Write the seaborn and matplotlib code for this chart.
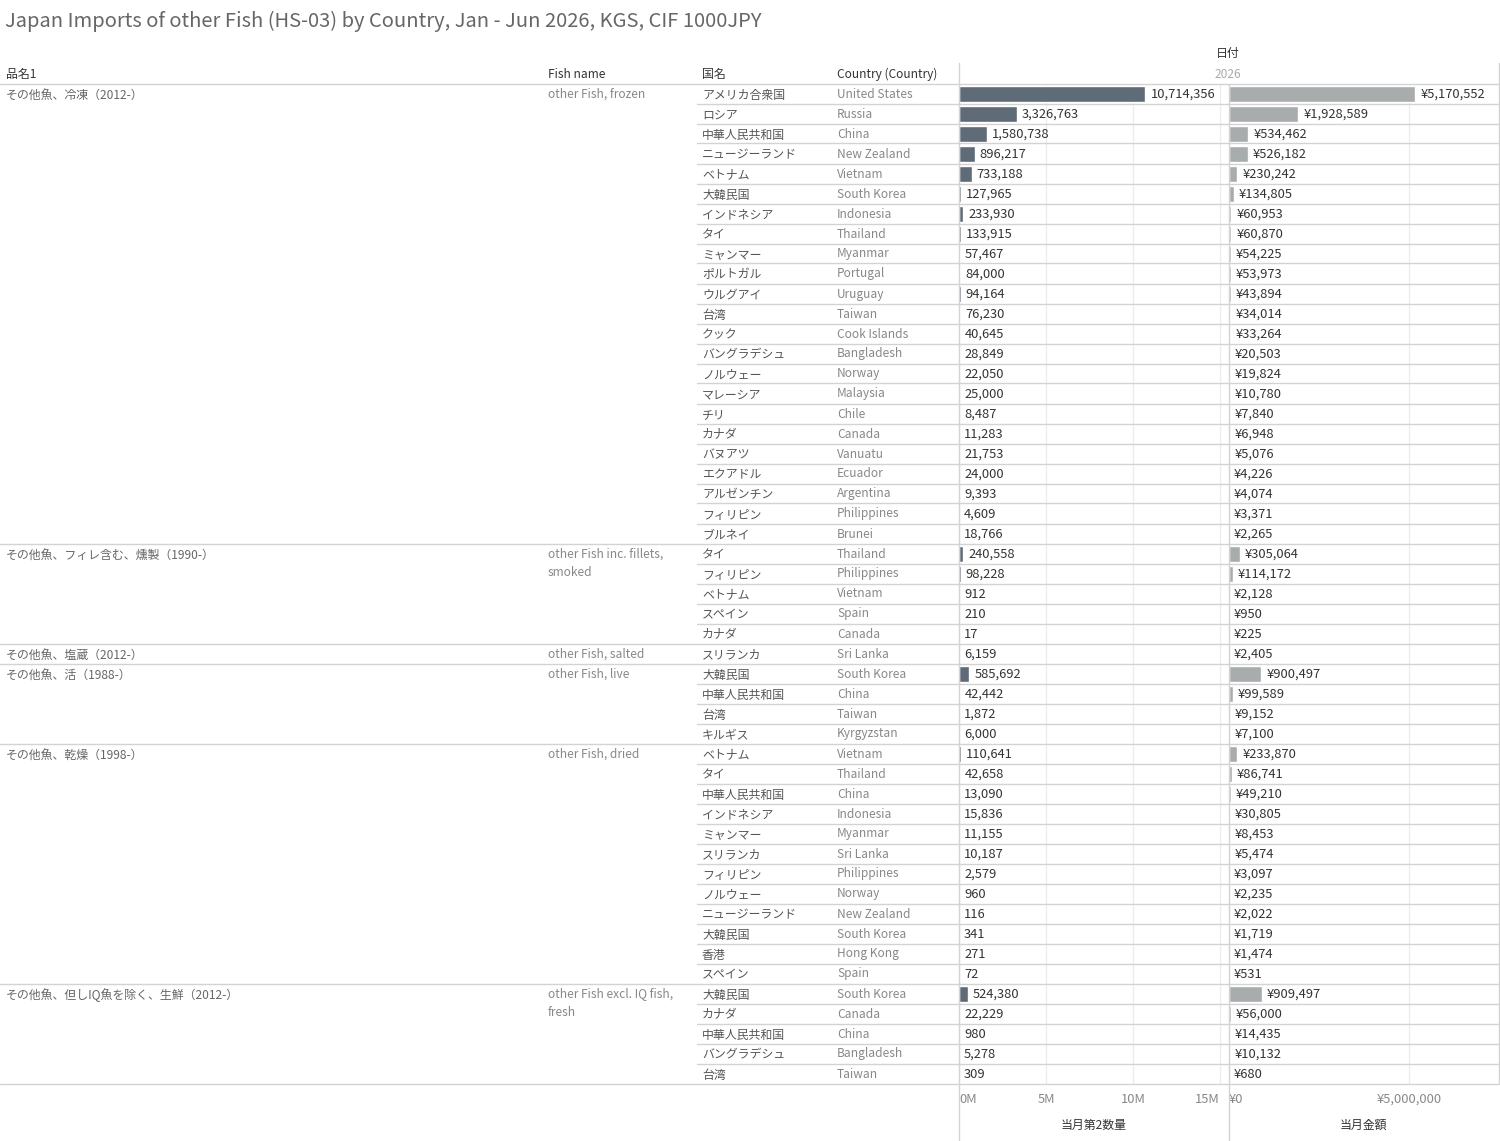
import pandas as pd
import matplotlib
matplotlib.use('Agg')
import matplotlib.pyplot as plt
from matplotlib.lines import Line2D
import seaborn as sns

# Product groups (品名1 / Fish name) and how many country rows each has
group_jp = ['その他魚、冷凍（2012-）', 'その他魚、フィレ含む、燻製（1990-）', 'その他魚、塩蔵（2012-）',
            'その他魚、活（1988-）', 'その他魚、乾燥（1998-）', 'その他魚、但しIQ魚を除く、生鮮（2012-）']
group_en = ['other Fish, frozen', 'other Fish inc. fillets,\nsmoked', 'other Fish, salted',
            'other Fish, live', 'other Fish, dried', 'other Fish excl. IQ fish,\nfresh']
group_sizes = [23, 5, 1, 4, 12, 5]

country_jp = ['アメリカ合衆国', 'ロシア', '中華人民共和国', 'ニュージーランド', 'ベトナム', '大韓民国',
              'インドネシア', 'タイ', 'ミャンマー', 'ポルトガル', 'ウルグアイ', '台湾', 'クック',
              'バングラデシュ', 'ノルウェー', 'マレーシア', 'チリ', 'カナダ', 'バヌアツ', 'エクアドル',
              'アルゼンチン', 'フィリピン', 'ブルネイ',
              'タイ', 'フィリピン', 'ベトナム', 'スペイン', 'カナダ',
              'スリランカ',
              '大韓民国', '中華人民共和国', '台湾', 'キルギス',
              'ベトナム', 'タイ', '中華人民共和国', 'インドネシア', 'ミャンマー', 'スリランカ',
              'フィリピン', 'ノルウェー', 'ニュージーランド', '大韓民国', '香港', 'スペイン',
              '大韓民国', 'カナダ', '中華人民共和国', 'バングラデシュ', '台湾']
country_en = ['United States', 'Russia', 'China', 'New Zealand', 'Vietnam', 'South Korea',
              'Indonesia', 'Thailand', 'Myanmar', 'Portugal', 'Uruguay', 'Taiwan', 'Cook Islands',
              'Bangladesh', 'Norway', 'Malaysia', 'Chile', 'Canada', 'Vanuatu', 'Ecuador',
              'Argentina', 'Philippines', 'Brunei',
              'Thailand', 'Philippines', 'Vietnam', 'Spain', 'Canada',
              'Sri Lanka',
              'South Korea', 'China', 'Taiwan', 'Kyrgyzstan',
              'Vietnam', 'Thailand', 'China', 'Indonesia', 'Myanmar', 'Sri Lanka',
              'Philippines', 'Norway', 'New Zealand', 'South Korea', 'Hong Kong', 'Spain',
              'South Korea', 'Canada', 'China', 'Bangladesh', 'Taiwan']

# 当月第2数量 (KGS)
quantity = [10714356, 3326763, 1580738, 896217, 733188, 127965, 233930, 133915, 57467, 84000,
            94164, 76230, 40645, 28849, 22050, 25000, 8487, 11283, 21753, 24000, 9393, 4609, 18766,
            240558, 98228, 912, 210, 17,
            6159,
            585692, 42442, 1872, 6000,
            110641, 42658, 13090, 15836, 11155, 10187, 2579, 960, 116, 341, 271, 72,
            524380, 22229, 980, 5278, 309]
# 当月金額 (1000 JPY)
amount = [5170552, 1928589, 534462, 526182, 230242, 134805, 60953, 60870, 54225, 53973,
          43894, 34014, 33264, 20503, 19824, 10780, 7840, 6948, 5076, 4226, 4074, 3371, 2265,
          305064, 114172, 2128, 950, 225,
          2405,
          900497, 99589, 9152, 7100,
          233870, 86741, 49210, 30805, 8453, 5474, 3097, 2235, 2022, 1719, 1474, 531,
          909497, 56000, 14435, 10132, 680]

df = pd.DataFrame({'row': range(len(quantity)), 'qty': quantity, 'amt': amount})
n_rows = len(df)

sns.set_style('white')
plt.rcParams['font.family'] = ['Noto Sans CJK JP', 'DejaVu Sans']

W, H = 1500, 1141
TOP, ROW_H = 84, 20
FS = 8.6       # table text
FS_NUM = 9.3   # numbers
LINE_C = '#d3d3d3'


def fx(px):
    return px / W


def fy(py):
    return 1 - py / H


def line(x0, x1, y0, y1):
    fig.add_artist(Line2D([fx(x0), fx(x1)], [fy(y0), fy(y1)], color=LINE_C, lw=1))


fig = plt.figure(figsize=(W / 100, H / 100), dpi=100)

bottom = TOP + ROW_H * n_rows
ax_q = fig.add_axes([fx(959), fy(bottom), 269 / W, (bottom - TOP) / H])
ax_a = fig.add_axes([fx(1229), fy(bottom), 269 / W, (bottom - TOP) / H])

sns.barplot(data=df, x='qty', y='row', order=list(range(n_rows)), orient='h',
            color='#5f6b77', saturation=1, width=0.76, ax=ax_q)
sns.barplot(data=df, x='amt', y='row', order=list(range(n_rows)), orient='h',
            color='#a8acac', saturation=1, width=0.76, ax=ax_a)

panels = [
    (ax_q, quantity, 15.46e6, [0, 5e6, 10e6, 15e6], ['0M', '5M', '10M', '15M'], '当月第2数量', ''),
    (ax_a, amount, 7.47e6, [0, 5e6], ['¥0', '¥5,000,000'], '当月金額', '¥'),
]
for ax, vals, xmax, ticks, tlabels, xlab, prefix in panels:
    ax.set_xlim(0, xmax)
    ax.set_ylim(n_rows - 0.5, -0.5)
    ax.set_yticks([])
    ax.set_ylabel('')
    ax.set_xticks(ticks)
    ax.set_xticklabels(tlabels, fontsize=FS_NUM, color='#888888')
    ax.tick_params(axis='x', length=0, pad=6.5)
    labels = ax.get_xticklabels()
    labels[0].set_ha('left')
    if len(labels) > 2:
        labels[-1].set_ha('right')
    ax.set_xlabel(xlab, fontsize=FS, color='#333333', labelpad=9)
    ax.grid(axis='x', color='#ececec', lw=1)
    ax.set_axisbelow(True)
    for s in ax.spines.values():
        s.set_visible(False)
    for i, v in enumerate(vals):
        ax.annotate(f'{prefix}{v:,}', xy=(v, i), xytext=(5, 0), textcoords='offset pixels',
                    va='center', ha='left', fontsize=FS_NUM, color='#333333')

# title and headers
fig.text(fx(5), fy(21), 'Japan Imports of other Fish (HS-03) by Country, Jan - Jun 2026, KGS, CIF 1000JPY',
         fontsize=14.5, color='#666666', va='center', ha='left')
fig.text(fx(1228), fy(54), '日付', fontsize=FS, color='#333333', va='center', ha='center')
fig.text(fx(1228), fy(74), '2026', fontsize=FS, color='#aaaaaa', va='center', ha='center')
for x, t in [(6, '品名1'), (548, 'Fish name'), (702, '国名'), (837, 'Country (Country)')]:
    fig.text(fx(x), fy(74), t, fontsize=FS, color='#333333', va='center', ha='left')

# table text
for i in range(n_rows):
    yc = TOP + ROW_H * i + ROW_H / 2
    fig.text(fx(702), fy(yc + 1), country_jp[i], fontsize=FS, color='#555555', va='center', ha='left')
    fig.text(fx(837), fy(yc), country_en[i], fontsize=FS, color='#888888', va='center', ha='left')

start = 0
group_starts = []
for g, size in enumerate(group_sizes):
    group_starts.append(start)
    yc = TOP + ROW_H * start + ROW_H / 2
    fig.text(fx(6), fy(yc + 1), group_jp[g], fontsize=FS, color='#666666', va='center', ha='left')
    for j, part in enumerate(group_en[g].split('\n')):
        fig.text(fx(548), fy(yc + 18 * j), part, fontsize=FS, color='#888888', va='center', ha='left')
    start += size

# grid lines of the table
line(0, 1498, TOP - 0.5, TOP - 0.5)
for k in range(1, n_rows + 1):
    y = TOP + ROW_H * k - 0.5
    if k in group_starts or k == n_rows:
        line(0, 1498, y, y)
    else:
        line(697, 1498, y, y)
line(958.5, 958.5, 63, H)
line(1228.5, 1228.5, TOP, H)
line(1498.5, 1498.5, 63, bottom)

fig.savefig('out.png', dpi=100, facecolor='white')
